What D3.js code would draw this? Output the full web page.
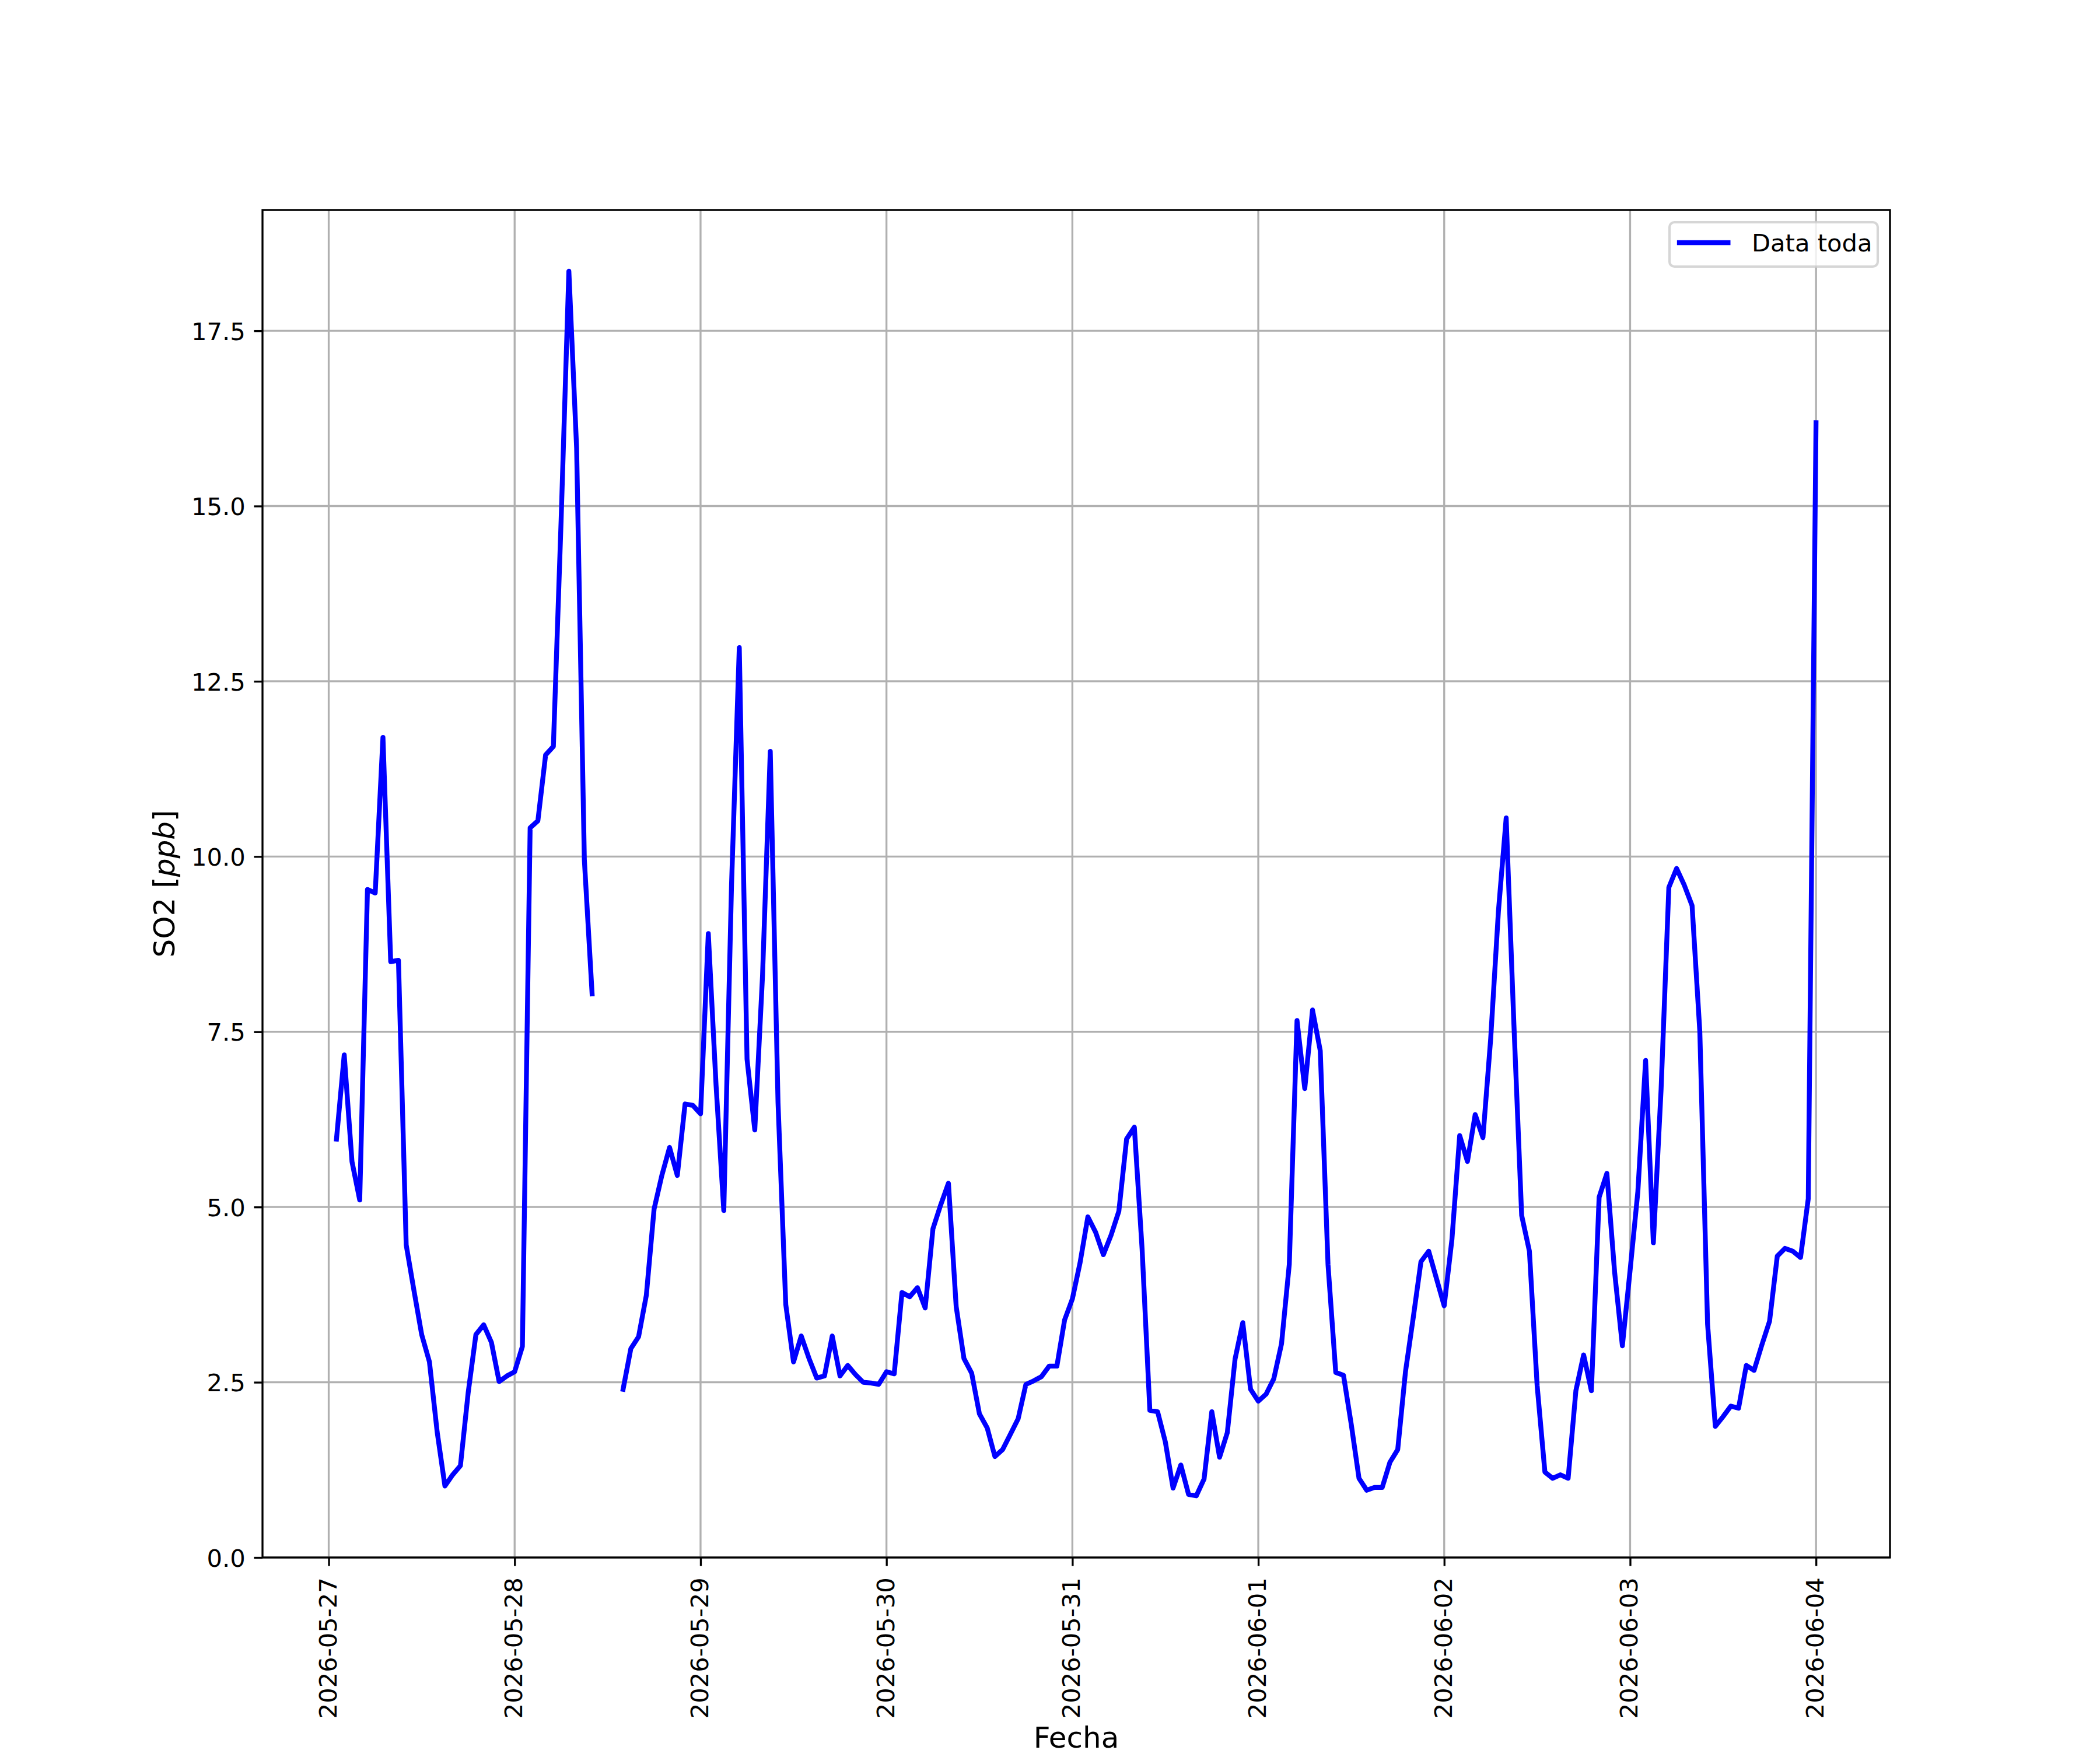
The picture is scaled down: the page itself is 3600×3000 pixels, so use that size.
<!DOCTYPE html>
<html>
<head>
<meta charset="utf-8">
<script src="https://cdn.jsdelivr.net/npm/d3@7"></script>
<style>
	body { margin: 0; background: #fff; }
	text { font-family: "DejaVu Sans", sans-serif; fill: #000; }
</style>
</head>
<body>
<div id="chart"></div>
<script>
// serie horaria de SO2, primera hora 2026-05-27 01:00
var horaInicio = Date.UTC(2026, 4, 27, 1);
var so2 = [5.97, 7.17, 5.65, 5.10, 9.53, 9.48, 11.7, 8.50, 8.52, 4.46,
	3.81, 3.18, 2.79, 1.79, 1.02, 1.18, 1.31, 2.35, 3.18, 3.32,
	3.07, 2.51, 2.59, 2.65, 3.01, 10.41, 10.51, 11.45, 11.57, 14.8,
	18.35, 15.83, 9.95, 8.04, NaN, NaN, NaN, 2.40, 2.98, 3.15,
	3.74, 4.97, 5.45, 5.85, 5.45, 6.47, 6.45, 6.33, 8.9, 6.74,
	4.95, 9.6, 12.98, 7.11, 6.10, 8.3, 11.5, 6.49, 3.61, 2.79,
	3.16, 2.84, 2.56, 2.59, 3.16, 2.59, 2.74, 2.61, 2.50, 2.49,
	2.47, 2.65, 2.62, 3.78, 3.72, 3.85, 3.56, 4.69, 5.03, 5.34,
	3.58, 2.84, 2.63, 2.05, 1.85, 1.44, 1.54, 1.76, 1.98, 2.47,
	2.52, 2.58, 2.73, 2.73, 3.39, 3.69, 4.21, 4.86, 4.64, 4.32,
	4.60, 4.94, 5.97, 6.14, 4.4, 2.10, 2.08, 1.65, 0.99, 1.32,
	0.90, 0.88, 1.12, 2.08, 1.43, 1.78, 2.83, 3.35, 2.40, 2.23,
	2.33, 2.55, 3.05, 4.18, 7.66, 6.69, 7.81, 7.23, 4.18, 2.64,
	2.60, 1.90, 1.13, 0.96, 1.00, 1.00, 1.36, 1.54, 2.65, 3.42,
	4.22, 4.37, 3.98, 3.59, 4.54, 6.02, 5.65, 6.32, 5.99, 7.40,
	9.22, 10.55, 7.6, 4.88, 4.37, 2.45, 1.22, 1.13, 1.18, 1.13,
	2.38, 2.89, 2.38, 5.14, 5.48, 4.07, 3.02, 4.1, 5.22, 7.09,
	4.49, 6.68, 9.56, 9.83, 9.59, 9.30, 7.50, 3.33, 1.87, 2.01,
	2.16, 2.13, 2.74, 2.67, 3.03, 3.37, 4.30, 4.41, 4.37, 4.28,
	5.12, 16.19];

var fechasTicks = ["2026-05-27", "2026-05-28", "2026-05-29", "2026-05-30", "2026-05-31",
	"2026-06-01", "2026-06-02", "2026-06-03", "2026-06-04"];
var yTicks = [0, 2.5, 5, 7.5, 10, 12.5, 15, 17.5];

var W = 3600, H = 3000;
// caja de ejes (no usar "top": choca con window.top)
var axL = 450, axR = 3240, axT = 360, axB = 2670;
var pt = 300 / 72;

var datos = so2.map(function(v, i) {
	return {t: new Date(horaInicio + i * 3600000), v: v};
});

var svg = d3.select("#chart").append("svg")
	.attr("width", W)
	.attr("height", H);

// escalas con margen tipo matplotlib (5%)
var t0 = datos[0].t.getTime(), t1 = datos[datos.length - 1].t.getTime();
var dt = (t1 - t0) * 0.05;
var x = d3.scaleUtc()
	.domain([new Date(t0 - dt), new Date(t1 + dt)])
	.range([axL, axR]);

var vmin = d3.min(so2), vmax = d3.max(so2);
var y = d3.scaleLinear()
	.domain([0, vmax + 0.05 * (vmax - vmin)])
	.range([axB, axT]);

var parse = d3.utcParse("%Y-%m-%d");
var xTicks = fechasTicks.map(parse);

/*
 * rejilla
 */
var grid = svg.append("g")
	.attr("stroke", "#b0b0b0")
	.attr("stroke-width", 0.8 * pt);
grid.selectAll(".gx")
	.data(xTicks)
	.enter()
		.append("line")
			.attr("x1", function(d) { return x(d); })
			.attr("x2", function(d) { return x(d); })
			.attr("y1", axT)
			.attr("y2", axB);
grid.selectAll(".gy")
	.data(yTicks)
	.enter()
		.append("line")
			.attr("x1", axL)
			.attr("x2", axR)
			.attr("y1", function(d) { return y(d); })
			.attr("y2", function(d) { return y(d); });

svg.append("clipPath")
	.attr("id", "clip")
	.append("rect")
		.attr("x", axL)
		.attr("y", axT)
		.attr("width", axR - axL)
		.attr("height", axB - axT);

var linea = d3.line()
	.defined(function(d) { return !isNaN(d.v); })
	.x(function(d) { return x(d.t); })
	.y(function(d) { return y(d.v); });

svg.append("path")
	.datum(datos)
	.attr("clip-path", "url(#clip)")
	.attr("fill", "none")
	.attr("stroke", "#0000ff")
	.attr("stroke-width", 2 * pt)
	.attr("stroke-linejoin", "round")
	.attr("stroke-linecap", "square")
	.attr("d", linea);

/*
 * ejes
 */
var tickLen = 3.5 * pt;
var xAxis = d3.axisBottom(x)
	.tickValues(xTicks)
	.tickSize(tickLen)
	.tickPadding(0)
	.tickFormat(d3.utcFormat("%Y-%m-%d"));
var gx = svg.append("g")
	.attr("transform", "translate(0," + axB + ")")
	.call(xAxis);
gx.select(".domain").remove();
gx.selectAll(".tick line").attr("stroke", "#000").attr("stroke-width", 0.8 * pt);
gx.selectAll(".tick text")
	.attr("font-size", 10 * pt)
	.attr("text-anchor", "end")
	.attr("y", 0)
	.attr("dy", null)
	.attr("transform", "translate(12.5," + (tickLen + 3.5 * pt + 5) + ") rotate(-90)");

var yAxis = d3.axisLeft(y)
	.tickValues(yTicks)
	.tickSize(tickLen)
	.tickPadding(3.5 * pt)
	.tickFormat(d3.format(".1f"));
var gy = svg.append("g")
	.attr("transform", "translate(" + axL + ",0)")
	.call(yAxis);
gy.select(".domain").remove();
gy.selectAll(".tick line").attr("stroke", "#000").attr("stroke-width", 0.8 * pt);
gy.selectAll(".tick text")
	.attr("font-size", 10 * pt)
	.attr("dy", "0.365em");

// marco
svg.append("rect")
	.attr("x", axL)
	.attr("y", axT)
	.attr("width", axR - axL)
	.attr("height", axB - axT)
	.attr("fill", "none")
	.attr("stroke", "#000")
	.attr("stroke-width", 0.8 * pt);

// etiquetas
svg.append("text")
	.attr("x", (axL + axR) / 2)
	.attr("y", 2996)
	.attr("text-anchor", "middle")
	.attr("font-size", 12 * pt)
	.text("Fecha");

var yl = svg.append("text")
	.attr("transform", "translate(299," + (axT + axB) / 2 + ") rotate(-90)")
	.attr("text-anchor", "middle")
	.attr("font-size", 12 * pt);
yl.append("tspan").text("SO2 [");
yl.append("tspan").attr("font-style", "italic").text("ppb");
yl.append("tspan").text("]");

/*
 * leyenda
 */
var leg = svg.append("g");
leg.append("rect")
	.attr("x", 2862)
	.attr("y", 381)
	.attr("width", 357)
	.attr("height", 76)
	.attr("rx", 0.2 * 10 * pt)
	.attr("fill", "#fff")
	.attr("fill-opacity", 0.8)
	.attr("stroke", "#cccccc")
	.attr("stroke-opacity", 0.8)
	.attr("stroke-width", 1 * pt);
leg.append("line")
	.attr("x1", 2879)
	.attr("x2", 2879 + 2 * 10 * pt)
	.attr("y1", 416)
	.attr("y2", 416)
	.attr("stroke", "#0000ff")
	.attr("stroke-width", 2 * pt)
	.attr("stroke-linecap", "square");
leg.append("text")
	.attr("x", 3003)
	.attr("y", 431)
	.attr("font-size", 10 * pt)
	.text("Data toda");
</script>
</body>
</html>
